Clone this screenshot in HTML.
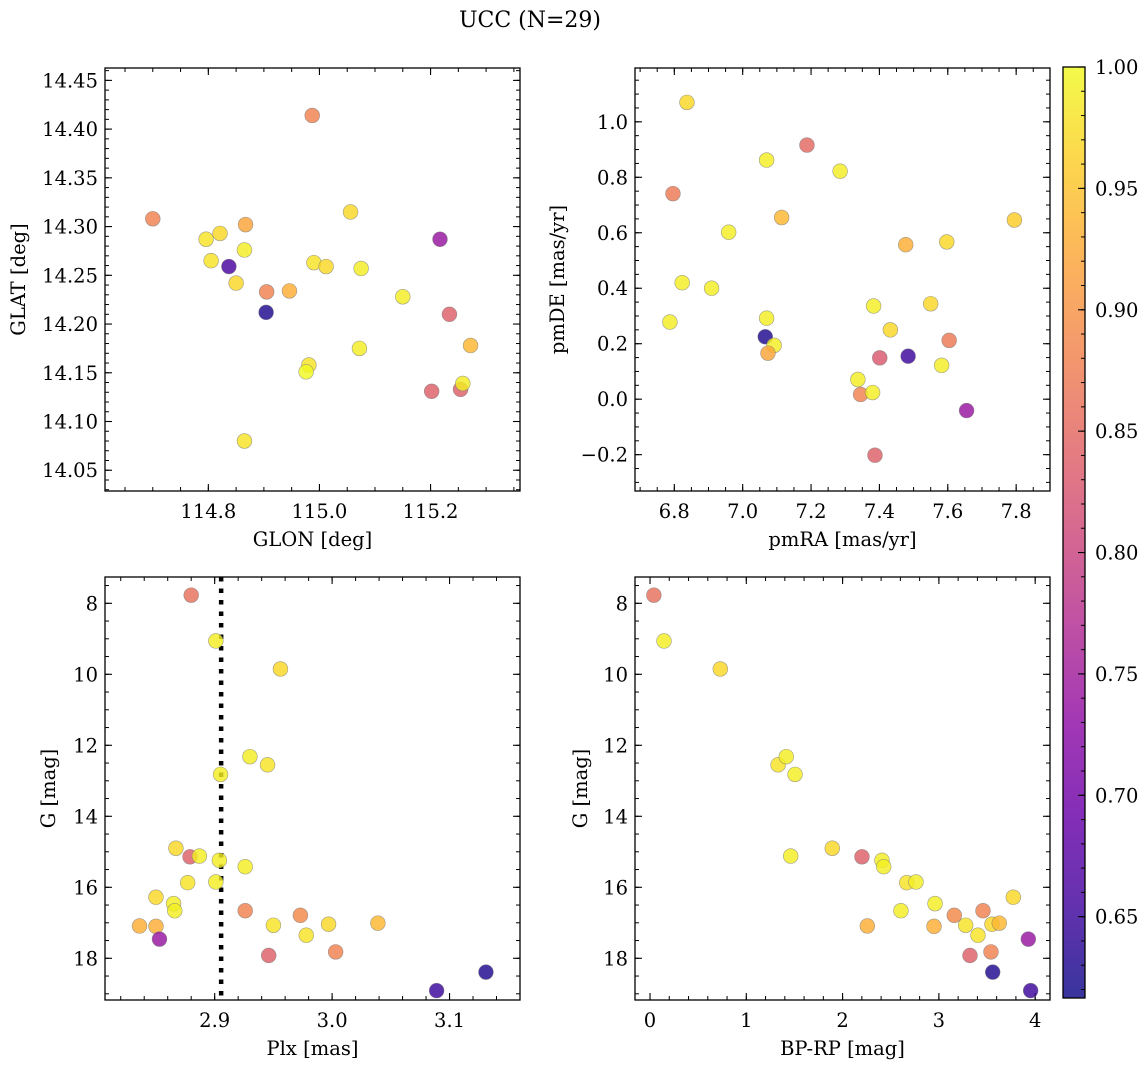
<!DOCTYPE html>
<html><head><meta charset="utf-8"><title>UCC (N=29)</title>
<style>
html,body{margin:0;padding:0;background:#fff;}
svg{display:block;font-family:"DejaVu Serif","Liberation Serif",serif;}
</style></head>
<body>
<svg id="fig" width="1148" height="1067" viewBox="0 0 1148 1067" xmlns="http://www.w3.org/2000/svg">
<rect x="0" y="0" width="1148" height="1067" fill="#fff"/>
<text x="530" y="27" font-size="22" text-anchor="middle">UCC (N=29)</text>
</svg>
<script>
// ---- Panel 1: GLON vs GLAT ----
const p1Glon = [114.987,114.700,114.796,114.821,114.867,114.865,114.805,114.837,114.850,114.905,114.946,114.904,114.990,115.012,115.056,115.075,115.150,115.217,115.234,115.272,115.072,114.981,114.976,115.202,115.254,115.258,114.865];
const p1Glat = [14.414,14.308,14.287,14.293,14.302,14.276,14.265,14.259,14.242,14.233,14.234,14.212,14.263,14.259,14.315,14.257,14.228,14.287,14.210,14.178,14.175,14.158,14.151,14.131,14.133,14.139,14.080];
const p1Prob = [0.88,0.88,0.98,0.97,0.92,0.99,0.98,0.66,0.97,0.88,0.93,0.63,0.98,0.97,0.97,0.99,0.99,0.74,0.84,0.94,0.99,0.98,1.0,0.84,0.84,0.99,0.98];
// ---- Panel 2: pmRA vs pmDE ----
const p2PmRA = [6.837,7.188,7.070,7.285,6.796,7.114,7.795,6.959,7.477,7.597,6.823,6.909,6.787,7.070,7.383,7.550,7.432,7.066,7.092,7.074,7.401,7.484,7.604,7.582,7.337,7.345,7.380,7.655,7.387];
const p2PmDE = [1.070,0.916,0.862,0.822,0.741,0.655,0.646,0.602,0.557,0.567,0.420,0.400,0.278,0.292,0.336,0.344,0.250,0.225,0.194,0.166,0.149,0.155,0.212,0.122,0.071,0.017,0.024,-0.041,-0.202];
const p2Prob = [0.97,0.85,0.99,0.99,0.87,0.94,0.96,0.99,0.93,0.97,0.99,0.99,0.99,0.99,0.99,0.97,0.97,0.63,0.99,0.92,0.83,0.65,0.87,0.99,0.99,0.88,0.99,0.74,0.84];
// ---- Panel 3: Plx vs G ----
const p3Plx = [2.880,2.901,2.956,2.930,2.945,2.905,2.867,2.879,2.887,2.904,2.926,2.877,2.901,2.850,2.865,2.866,2.836,2.850,2.853,2.926,2.973,2.950,2.978,2.997,3.039,3.003,2.946,3.089,3.131];
const p3G = [7.77,9.06,9.85,12.32,12.55,12.82,14.90,15.14,15.12,15.24,15.42,15.87,15.85,16.28,16.46,16.66,17.09,17.10,17.46,16.66,16.79,17.07,17.35,17.04,17.01,17.82,17.92,18.91,18.39];
const p3Prob = [0.86,0.99,0.97,0.99,0.98,0.99,0.97,0.84,0.99,0.99,0.99,0.98,0.99,0.97,0.99,0.99,0.93,0.93,0.74,0.88,0.89,0.98,0.98,0.97,0.94,0.88,0.84,0.65,0.63];
const plxLine = [2.9055];
// ---- Panel 4: BP-RP vs G ----
const p4BpRp = [0.04,0.145,0.73,1.33,1.415,1.506,1.461,1.893,2.201,2.409,2.427,2.257,2.606,2.666,2.762,2.960,2.949,3.160,3.278,3.406,3.323,3.458,3.541,3.551,3.627,3.773,3.559,3.929,3.953];
const p4G = [7.77,9.06,9.85,12.55,12.32,12.82,15.12,14.90,15.14,15.24,15.42,17.09,16.66,15.87,15.85,16.46,17.10,16.79,17.07,17.35,17.92,16.66,17.82,17.04,17.01,16.28,18.39,17.46,18.91];
const p4Prob = [0.86,0.99,0.97,0.98,0.99,0.99,0.99,0.97,0.84,0.99,0.99,0.93,0.99,0.98,0.99,0.99,0.93,0.89,0.98,0.98,0.84,0.88,0.88,0.97,0.94,0.97,0.63,0.74,0.65];
// ---- Colorbar ----
const cbTicks = [0.65,0.70,0.75,0.80,0.85,0.90,0.95,1.00];

const NS = "http://www.w3.org/2000/svg";
const svg = document.getElementById('fig');
const FS = 19.5;
const vmin = 0.6165, vmax = 1.0;
const plasma = ["#0d0887","#41049d","#6a00a8","#8f0da4","#b12a90","#cc4778","#e16462","#f2844b","#fca636","#fcce25","#f0f921"];
function hex(h){return [1,3,5].map(i=>parseInt(h.substr(i,2),16));}
function cmapT(t){
  t=Math.max(0,Math.min(1,t));
  const f=t*10, i=Math.min(9,Math.floor(f)), u=f-i;
  const a=hex(plasma[i]), b=hex(plasma[i+1]);
  return 'rgb('+a.map((v,k)=>Math.round(v+(b[k]-v)*u)).join(',')+')';
}
function cmap(p){return cmapT((p-vmin)/(vmax-vmin));}
function el(tag,attrs,parent){
  const e=document.createElementNS(NS,tag);
  for(const k in attrs) e.setAttribute(k,attrs[k]);
  (parent||svg).appendChild(e); return e;
}
function ticksRange(lo,hi,step){
  const out=[]; const s=Math.ceil(lo/step-1e-6), e=Math.floor(hi/step+1e-6);
  for(let i=s;i<=e;i++) out.push(+(i*step).toFixed(6));
  return out;
}
function fmt(v,d){const s=Math.abs(v).toFixed(d);return (v<-1e-9?'\u2212':'')+s;}

function panel(cfg){
  const g=el('g',{});
  
  
  const {x0,x1,y0,y1,xlim,ylim}=cfg;
  const sx=v=>x0+(v-xlim[0])/(xlim[1]-xlim[0])*(x1-x0);
  const sy=v=>y1-(v-ylim[0])/(ylim[1]-ylim[0])*(y1-y0);
  cfg.sx=sx; cfg.sy=sy;
  const clip='clip-'+cfg.name;
  const cp=el('clipPath',{id:clip},g); el('rect',{x:x0,y:y0,width:x1-x0,height:y1-y0},cp);
  const lo=v=>Math.min(v[0],v[1]), hi=v=>Math.max(v[0],v[1]);
  ticksRange(lo(xlim),hi(xlim),cfg.xMinor).forEach(v=>{
    const x=sx(v);
    el('line',{x1:x,x2:x,y1:y1,y2:y1-4,stroke:'#000','stroke-width':1},g);
    el('line',{x1:x,x2:x,y1:y0,y2:y0+4,stroke:'#000','stroke-width':1},g);
  });
  ticksRange(lo(ylim),hi(ylim),cfg.yMinor).forEach(v=>{
    const y=sy(v);
    el('line',{x1:x0,x2:x0+4,y1:y,y2:y,stroke:'#000','stroke-width':1},g);
    el('line',{x1:x1,x2:x1-4,y1:y,y2:y,stroke:'#000','stroke-width':1},g);
  });
  ticksRange(lo(xlim),hi(xlim),cfg.xMajor).forEach(v=>{
    const x=sx(v);
    el('line',{x1:x,x2:x,y1:y1,y2:y1-7,stroke:'#000','stroke-width':1.1},g);
    el('line',{x1:x,x2:x,y1:y0,y2:y0+7,stroke:'#000','stroke-width':1.1},g);
    const t=el('text',{x:x,y:y1+27,'font-size':FS,'text-anchor':'middle'},g);
    
    
    t.textContent=fmt(v,cfg.xDec);
  });
  ticksRange(lo(ylim),hi(ylim),cfg.yMajor).forEach(v=>{
    const y=sy(v);
    el('line',{x1:x0,x2:x0+7,y1:y,y2:y,stroke:'#000','stroke-width':1.1},g);
    el('line',{x1:x1,x2:x1-7,y1:y,y2:y,stroke:'#000','stroke-width':1.1},g);
    const t=el('text',{x:x0-7,y:y+7,'font-size':FS,'text-anchor':'end'},g);
    
    
    t.textContent=fmt(v,cfg.yDec);
  });
  const xl=el('text',{x:(x0+x1)/2,y:y1+55,'font-size':FS,'text-anchor':'middle'},g);
  
  
  xl.textContent=cfg.xlabel;
  const yl=el('text',{x:cfg.ylx,y:(y0+y1)/2,'font-size':FS,'text-anchor':'middle',transform:'rotate(-90 '+cfg.ylx+' '+((y0+y1)/2)+')'},g);
  
  
  yl.textContent=cfg.ylabel;
  const pg=el('g',{'clip-path':'url(#'+clip+')'},g);
  cfg.pg=pg;
  if(cfg.extra) cfg.extra(cfg);
  for(let i=0;i<cfg.xs.length;i++){
    const c=el('circle',{cx:sx(cfg.xs[i]),cy:sy(cfg.ys[i]),r:7.4,fill:cmap(cfg.ps[i]),'fill-opacity':0.82,stroke:'#777','stroke-opacity':0.7,'stroke-width':0.6},pg);
    
    
  }
  el('rect',{x:x0,y:y0,width:x1-x0,height:y1-y0,fill:'none',stroke:'#000','stroke-width':1.3},g);
}

panel({name:'glon-glat-panel',x0:105,x1:520,y0:68,y1:491,xlim:[114.614,115.361],ylim:[14.0287,14.4627],
  xMajor:0.2,xMinor:0.05,yMajor:0.05,yMinor:0.01,xDec:1,yDec:2,xlabel:'GLON [deg]',ylabel:'GLAT [deg]',ylx:25,
  xs:p1Glon,ys:p1Glat,ps:p1Prob});
panel({name:'pm-panel',x0:635,x1:1050,y0:68,y1:491,xlim:[6.685,7.899],ylim:[-0.331,1.194],
  xMajor:0.2,xMinor:0.05,yMajor:0.2,yMinor:0.05,xDec:1,yDec:1,xlabel:'pmRA [mas/yr]',ylabel:'pmDE [mas/yr]',ylx:564,
  xs:p2PmRA,ys:p2PmDE,ps:p2Prob});
panel({name:'plx-g-panel',x0:105,x1:520,y0:577,y1:1000,xlim:[2.8066,3.160],ylim:[19.175,7.259],
  xMajor:0.1,xMinor:0.02,yMajor:2,yMinor:0.5,xDec:1,yDec:0,xlabel:'Plx [mas]',ylabel:'G [mag]',ylx:55,
  xs:p3Plx,ys:p3G,ps:p3Prob,
  extra:(c)=>{plxLine.forEach(v=>{
    const l=el('line',{x1:c.sx(v),x2:c.sx(v),y1:c.y0,y2:c.y1,stroke:'#000','stroke-width':4.5,'stroke-dasharray':'4.5 7'},c.pg);
    
    
  });}});
panel({name:'cmd-panel',x0:635,x1:1050,y0:577,y1:1000,xlim:[-0.156,4.154],ylim:[19.175,7.259],
  xMajor:1,xMinor:0.2,yMajor:2,yMinor:0.5,xDec:0,yDec:0,xlabel:'BP-RP [mag]',ylabel:'G [mag]',ylx:587,
  xs:p4BpRp,ys:p4G,ps:p4Prob});

(function(){
  const cx0=1063,cx1=1085,cy0=67,cy1=998;
  const g=el('g',{});
  
  
  const defs=el('defs',{},g);
  const lg=el('linearGradient',{id:'cbgrad',x1:0,y1:1,x2:0,y2:0},defs);
  for(let i=0;i<=20;i++){el('stop',{offset:(i/20),'stop-color':cmapT(i/20)},lg);}
  el('rect',{x:cx0,y:cy0,width:cx1-cx0,height:cy1-cy0,fill:'url(#cbgrad)','fill-opacity':0.82},g);
  const sy=v=>cy1-(v-vmin)/(vmax-vmin)*(cy1-cy0);
  ticksRange(vmin,vmax,0.01).forEach(v=>{const y=sy(v);el('line',{x1:cx1,x2:cx1-4,y1:y,y2:y,stroke:'#000','stroke-width':1},g);});
  cbTicks.forEach(v=>{
    const y=sy(v);
    el('line',{x1:cx1,x2:cx1-7,y1:y,y2:y,stroke:'#000','stroke-width':1.1},g);
    const t=el('text',{x:cx1+10,y:y+7,'font-size':FS},g);
    
    
    t.textContent=v.toFixed(2);
  });
  el('rect',{x:cx0,y:cy0,width:cx1-cx0,height:cy1-cy0,fill:'none',stroke:'#000','stroke-width':1.3},g);
})();
</script>
</body></html>
